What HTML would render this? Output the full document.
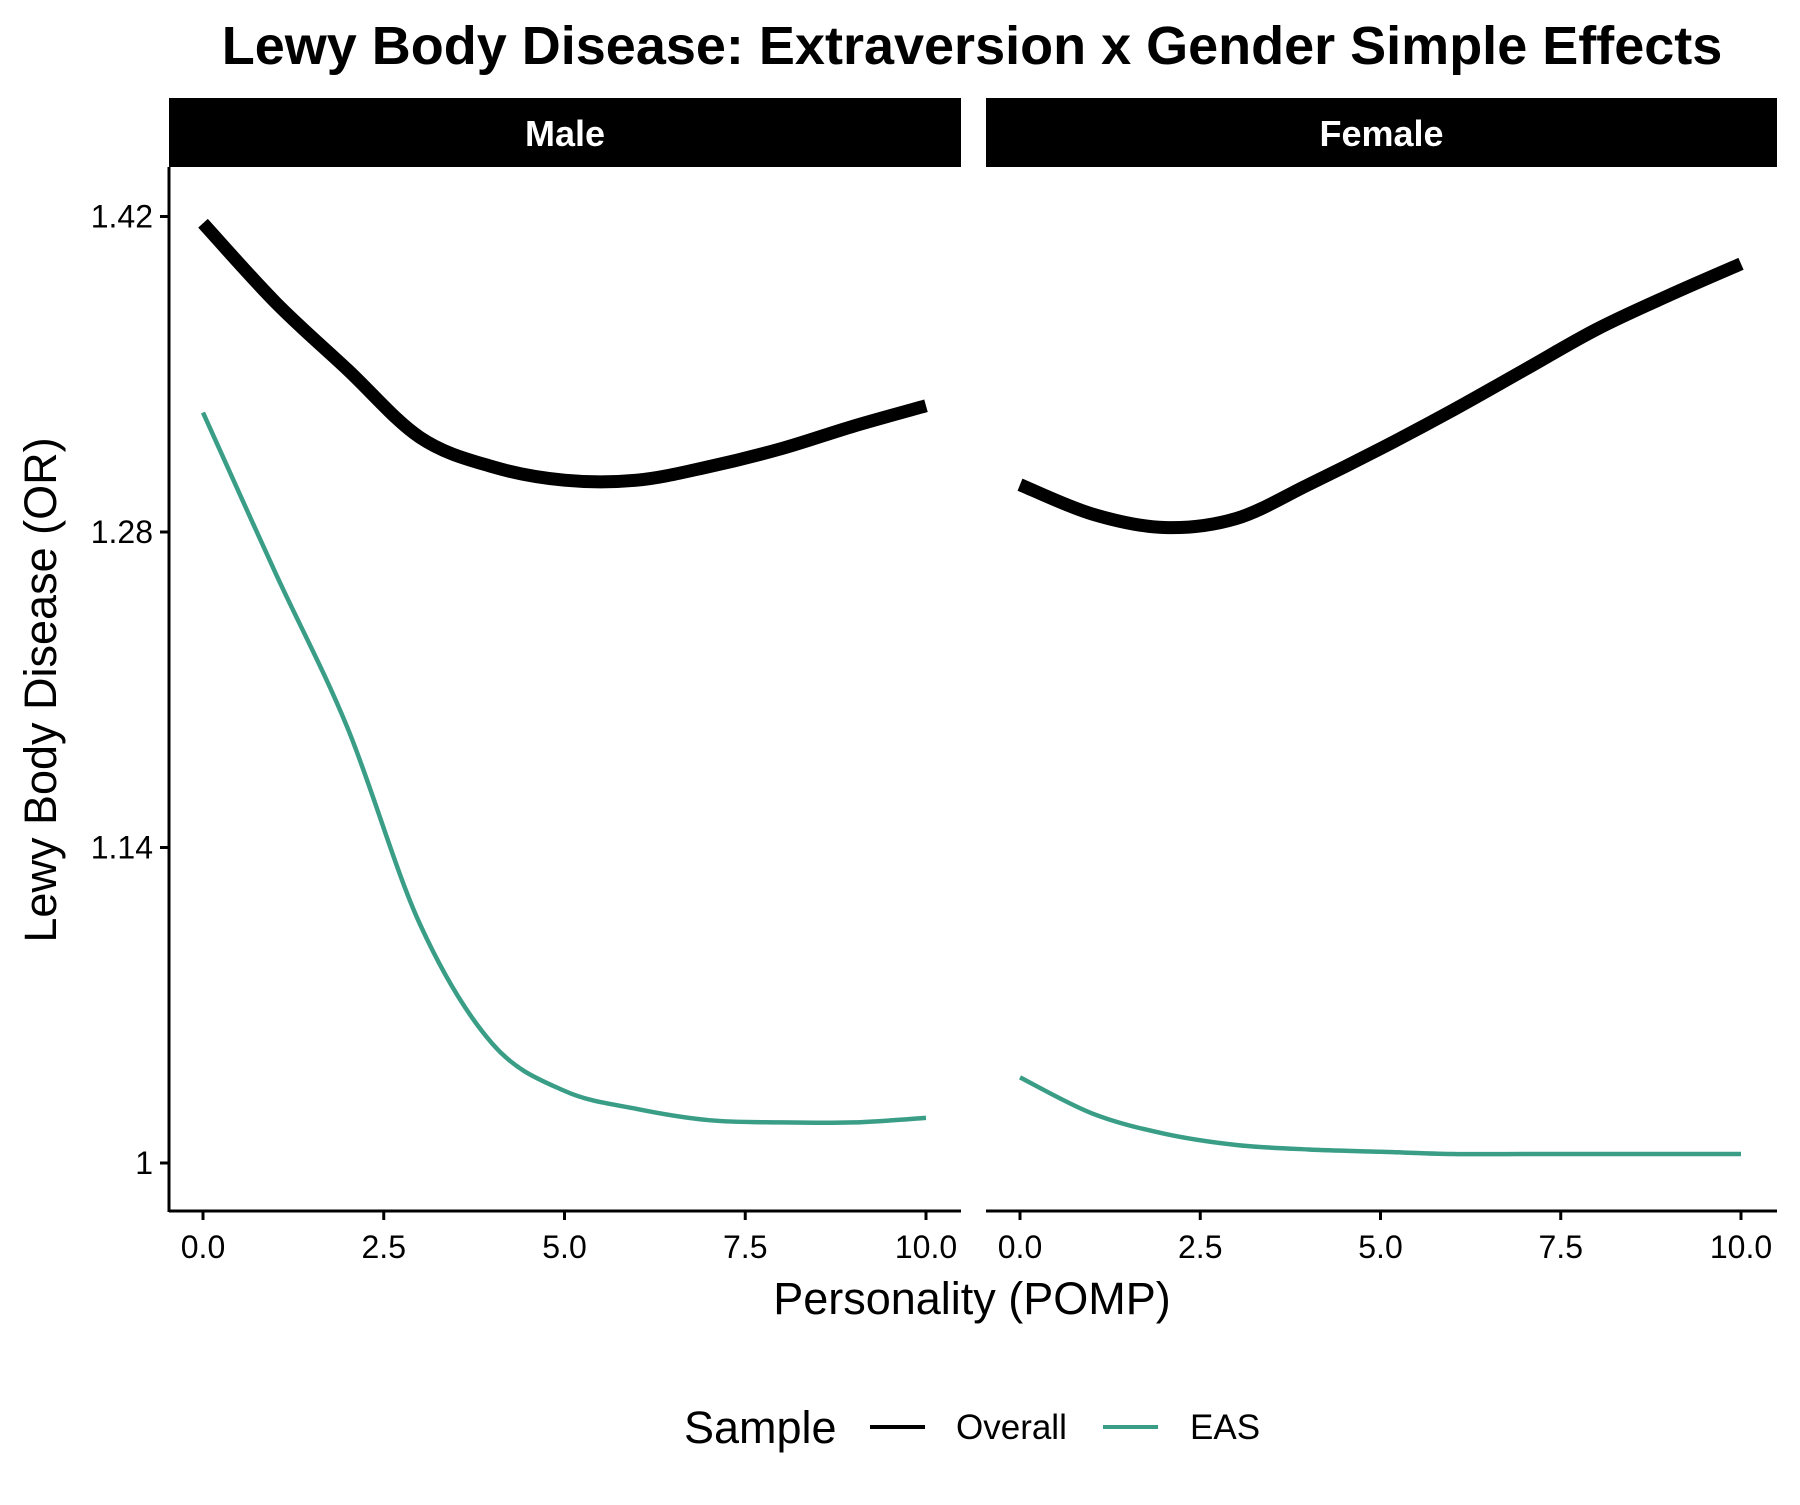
<!DOCTYPE html>
<html><head><meta charset="utf-8"><style>
body{margin:0;background:#fff;}
svg text{font-family:"Liberation Sans",Arial,sans-serif;}
</style></head><body>
<svg id="chart" width="1800" height="1500" viewBox="0 0 1800 1500" xmlns="http://www.w3.org/2000/svg">
<rect width="1800" height="1500" fill="#fff"/>
<text x="972" y="64" text-anchor="middle" font-size="54" font-weight="bold">Lewy Body Disease: Extraversion x Gender Simple Effects</text>
<g id="panels"></g>
<text x="972" y="1314" text-anchor="middle" font-size="45">Personality (POMP)</text>
<text transform="translate(56,690) rotate(-90)" text-anchor="middle" font-size="45">Lewy Body Disease (OR)</text>
<g>
<text x="684" y="1443" font-size="45">Sample</text>
<line x1="870" y1="1427" x2="925" y2="1427" stroke="#000" stroke-width="4"/>
<text x="956" y="1439" font-size="35">Overall</text>
<line x1="1103" y1="1427" x2="1158" y2="1427" stroke="#3A9E87" stroke-width="4"/>
<text x="1190" y="1439" font-size="35">EAS</text>
</g>
</svg>
<script>
const xs=[0,1,2,3,4,5,6,7,8,9,10];
const maleOverall=[1.417,1.382,1.352,1.322,1.309,1.303,1.303,1.309,1.317,1.327,1.336];
const maleEAS=[1.333,1.262,1.193,1.106,1.053,1.032,1.024,1.019,1.018,1.018,1.020];
const femaleOverall=[1.301,1.288,1.282,1.286,1.301,1.317,1.334,1.352,1.370,1.385,1.399];
const femaleEAS=[1.038,1.022,1.013,1.008,1.006,1.005,1.004,1.004,1.004,1.004,1.004];
const yTicks=[1,1.14,1.28,1.42];
const yTickLabels=["1","1.14","1.28","1.42"];
const xTicks=[0,2.5,5,7.5,10];
const xTickLabels=["0.0","2.5","5.0","7.5","10.0"];
const panelNames=["Male","Female"];

const NS="http://www.w3.org/2000/svg";
const g=document.getElementById('panels');
function mk(t,a,p){const e=document.createElementNS(NS,t);for(const k in a)e.setAttribute(k,a[k]);(p||g).appendChild(e);return e;}
const yScale=v=>1163-(v-1)/0.14*315.5;
const panels=[{x0:169,x1:961,px0:203,px1:926,data:[maleOverall,maleEAS]},{x0:986,x1:1777,px0:1020,px1:1741,data:[femaleOverall,femaleEAS]}];
function pathD(pts){let d=`M${pts[0][0]},${pts[0][1]}`;for(let i=0;i<pts.length-1;i++){const p0=pts[Math.max(0,i-1)],p1=pts[i],p2=pts[i+1],p3=pts[Math.min(pts.length-1,i+2)];d+=` C${p1[0]+(p2[0]-p0[0])/6},${p1[1]+(p2[1]-p0[1])/6} ${p2[0]-(p3[0]-p1[0])/6},${p2[1]-(p3[1]-p1[1])/6} ${p2[0]},${p2[1]}`;}return d;}
panels.forEach((p,pi)=>{
  const xScale=v=>p.px0+(v/10)*(p.px1-p.px0);
  const strip=mk('rect',{x:p.x0,y:98,width:p.x1-p.x0,height:69,fill:'#000'});
  
  
  const st=mk('text',{x:(p.x0+p.x1)/2,y:146,'text-anchor':'middle','font-size':36,'font-weight':'bold',fill:'#fff'});
  st.textContent=panelNames[pi];
  
  
  const ax=mk('line',{x1:p.x0,y1:1211,x2:p.x1,y2:1211,stroke:'#000','stroke-width':3});
  
  
  xTicks.forEach((t,i)=>{
    const tk=mk('line',{x1:xScale(t),y1:1211,x2:xScale(t),y2:1220,stroke:'#000','stroke-width':3});
    
    
    const tl=mk('text',{x:xScale(t),y:1258,'text-anchor':'middle','font-size':32,fill:'#000'});
    tl.textContent=xTickLabels[i];
    
    
  });
  const colors=['#000','#3A9E87'],widths=[13,4.5],names=['overall','eas'];
  p.data.forEach((arr,si)=>{
    const pts=xs.map((x,i)=>[xScale(x),yScale(arr[i])]);
    const ln=mk('path',{d:pathD(pts),fill:'none',stroke:colors[si],'stroke-width':widths[si]});
    
    
  });
});
const ya=mk('line',{x1:169,y1:167,x2:169,y2:1212,stroke:'#000','stroke-width':3});


yTicks.forEach((t,i)=>{
  const tk=mk('line',{x1:160,y1:yScale(t),x2:169,y2:yScale(t),stroke:'#000','stroke-width':3});
  
  
  const tl=mk('text',{x:153,y:yScale(t)+11,'text-anchor':'end','font-size':32,fill:'#000'});
  tl.textContent=yTickLabels[i];
  
  
});
</script>
</body></html>
